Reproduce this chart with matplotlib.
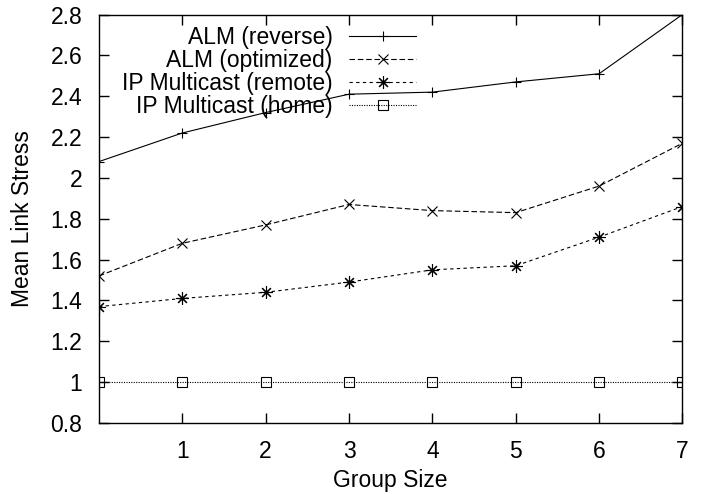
import matplotlib
matplotlib.use("Agg")
import matplotlib.pyplot as plt

# group size positions
group_size = [0, 1, 2, 3, 4, 5, 6, 7]

alm_reverse = [2.08, 2.22, 2.32, 2.41, 2.42, 2.47, 2.51, 2.80]
alm_optimized = [1.52, 1.68, 1.77, 1.87, 1.84, 1.83, 1.96, 2.17]
ip_remote = [1.37, 1.41, 1.44, 1.49, 1.55, 1.57, 1.71, 1.86]
ip_home = [1.0, 1.0, 1.0, 1.0, 1.0, 1.0, 1.0, 1.0]

series_names = ["ALM (reverse)", "ALM (optimized)",
                "IP Multicast (remote)", "IP Multicast (home)"]

x_ticks = [1, 2, 3, 4, 5, 6, 7]
y_ticks = [0.8, 1.0, 1.2, 1.4, 1.6, 1.8, 2.0, 2.2, 2.4, 2.6, 2.8]
y_tick_labels = ["0.8", "1", "1.2", "1.4", "1.6", "1.8",
                 "2", "2.2", "2.4", "2.6", "2.8"]


def main():
    plt.rcParams['font.family'] = ['Liberation Sans', 'DejaVu Sans']
    fs = 16.5

    fig = plt.figure(figsize=(7.05, 4.94), dpi=100)
    ax = fig.add_axes([0.1404, 0.1437, 0.968 - 0.1404, 0.9706 - 0.1437])

    lw = 0.8
    ax.plot(group_size, alm_reverse, color='black', lw=lw, ls='-',
            marker='+', ms=7, mew=0.8, label=series_names[0])
    ax.plot(group_size, alm_optimized, color='black', lw=lw,
            ls=(0, (5, 2.5)), marker='x', ms=7, mew=0.8,
            label=series_names[1])
    ax.plot(group_size, ip_remote, color='black', lw=lw,
            ls=(0, (3, 3)), marker=(8, 2, 0), ms=9, mew=0.8,
            label=series_names[2])
    ax.plot(group_size, ip_home, color='black', lw=lw,
            ls=(0, (1, 1.2)), marker='s', ms=7, mew=0.8,
            markerfacecolor='none', label=series_names[3])

    ax.set_xlim(0, 7)
    ax.set_ylim(0.8, 2.8)
    ax.set_xticks(x_ticks)
    ax.set_yticks(y_ticks)
    ax.set_yticklabels(y_tick_labels)
    ax.tick_params(direction='in', length=7, width=1,
                   top=True, right=True, labelsize=fs, pad=12)
    for s in ax.spines.values():
        s.set_linewidth(1.0)

    ax.set_xlabel("Group Size", fontsize=fs, va='top')
    ax.set_ylabel("Mean Link Stress", fontsize=fs)
    ax.xaxis.set_label_coords(0.5, -0.112)
    ax.yaxis.set_label_coords(-0.111, 0.5)

    leg = ax.legend(loc='upper right', bbox_to_anchor=(0.543, 0.972),
                    frameon=False, markerfirst=False, handlelength=2.9,
                    handletextpad=0.74, labelspacing=0.0, fontsize=fs,
                    borderaxespad=0, borderpad=0)
    for t in leg.get_texts():
        t.set_ha('right')
    leg._legend_box.align = "right"

    fig.savefig("out.png", dpi=100)


if __name__ == "__main__":
    main()
